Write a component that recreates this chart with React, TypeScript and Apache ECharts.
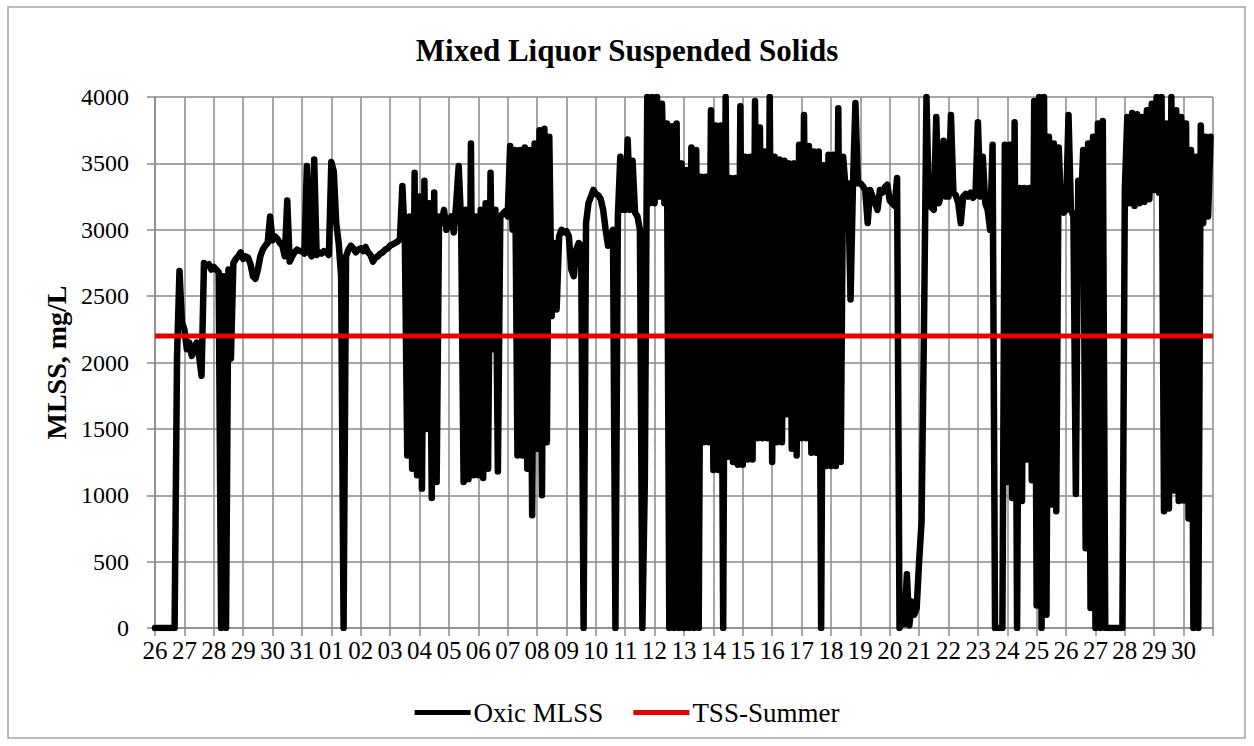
import React, { useEffect, useRef } from "react";
import * as echarts from "echarts";

// Day labels on the x axis (one per day, 26th of the first month to the 30th of the next)
const dayLabels = [
  "26", "27", "28", "29", "30", "31",
  "01", "02", "03", "04", "05", "06", "07", "08", "09", "10",
  "11", "12", "13", "14", "15", "16", "17", "18", "19", "20",
  "21", "22", "23", "24", "25", "26", "27", "28", "29", "30",
];

// Oxic MLSS readings, mg/L, 12 readings (2-hourly) per day
const mlssDays26to31 = [
  [0, 0, 0, 0, 0, 0, 0, 0, 0, 2050, 2690, 2300],
  [2250, 2100, 2150, 2050, 2100, 2150, 2050, 1900, 2750, 2730, 2740, 2700],
  [2720, 2700, 2680, 0, 2650, 0, 2700, 2030, 2750, 2780, 2800, 2830],
  [2780, 2800, 2790, 2740, 2650, 2630, 2700, 2800, 2850, 2880, 2900, 3100],
  [2920, 2950, 2930, 2900, 2880, 2800, 3220, 2760, 2800, 2830, 2850, 2840],
  [2840, 2820, 3480, 2830, 2800, 3530, 2810, 2830, 2820, 2840, 2830, 2810],
];
const mlssDays01to06 = [
  [3510, 3440, 3050, 2900, 2650, 0, 2800, 2850, 2880, 2860, 2830, 2850],
  [2860, 2840, 2870, 2830, 2810, 2760, 2790, 2800, 2820, 2830, 2850, 2860],
  [2880, 2890, 2900, 2910, 2930, 3330, 2950, 1300, 3100, 1200, 3430, 1150],
  [3250, 1050, 3370, 1500, 3200, 980, 3280, 1100, 3100, 3050, 3150, 3000],
  [3050, 3100, 2980, 3200, 3480, 3050, 1100, 3150, 1120, 3650, 1150, 3100],
  [1150, 3150, 1130, 3200, 1200, 3430, 2100, 3150, 1180, 3100, 3120, 3140],
];
const mlssDays07to12 = [
  [3100, 3630, 3000, 3600, 1300, 3600, 1300, 3620, 1200, 3600, 850, 3650],
  [1350, 3750, 1000, 3760, 1400, 3700, 2350, 2900, 2400, 2950, 3000, 2980],
  [2990, 2950, 2700, 2650, 2850, 2900, 2880, 0, 3050, 3200, 3250, 3300],
  [3270, 3260, 3230, 3150, 3000, 2880, 2950, 3000, 0, 3100, 3550, 3150],
  [3150, 3680, 3150, 3520, 3130, 3100, 3000, 0, 1100, 4000, 3200, 4000],
  [3200, 4000, 3250, 3950, 3200, 3800, 0, 3780, 0, 3800, 0, 3500],
];
const mlssDays13to18 = [
  [0, 3450, 0, 3620, 0, 3600, 0, 3400, 1400, 3400, 1400, 3900],
  [1190, 3785, 1190, 3785, 0, 4000, 1290, 3390, 1250, 3390, 1230, 3930],
  [1230, 3550, 1270, 3550, 1270, 3970, 1430, 3770, 1430, 3590, 1430, 4000],
  [1250, 3550, 1400, 3530, 1400, 3520, 1610, 3500, 1350, 3500, 1300, 3640],
  [1430, 3865, 1430, 3630, 1320, 3590, 1320, 3590, 0, 3485, 1220, 3565],
  [1220, 3565, 1220, 3915, 1250, 3550, 3300, 3350, 2475, 3350, 3955, 3350],
];
const mlssDays19to24 = [
  [3350, 3330, 3300, 3050, 3300, 3250, 3200, 3150, 3300, 3280, 3320, 3340],
  [3220, 3200, 3180, 3390, 0, 50, 30, 405, 20, 200, 100, 150],
  [500, 800, 2270, 4000, 3180, 3170, 3150, 3850, 3200, 3260, 3670, 3250],
  [3250, 3865, 3280, 3260, 3200, 3050, 3250, 3270, 3250, 3280, 3240, 3260],
  [3810, 3250, 3550, 3200, 3150, 3000, 3640, 0, 0, 0, 0, 3640],
  [1100, 3640, 980, 3810, 0, 3315, 956, 3315, 1270, 3315, 1113, 3970],
];
const mlssDays25to30 = [
  [170, 4000, 0, 4000, 100, 3700, 930, 3650, 880, 3620, 3150, 3130],
  [3150, 3865, 3150, 3100, 1010, 3370, 3120, 3600, 600, 3650, 150, 3700],
  [0, 3800, 0, 3820, 0, 0, 0, 0, 0, 0, 0, 0],
  [3300, 3850, 3200, 3880, 3180, 3870, 3200, 3850, 3210, 3900, 3230, 3950],
  [3300, 4000, 3280, 4000, 880, 3800, 900, 4000, 1035, 3900, 956, 3850],
  [960, 3800, 825, 3600, 0, 3550, 0, 3785, 3050, 3700, 3100, 3700],
];

// TSS summer limit, mg/L
const tssSummer = 2200;

const SERIF = "'Liberation Serif', 'Times New Roman', serif";

function buildMlss(): number[][] {
  const rows = [
    ...mlssDays26to31,
    ...mlssDays01to06,
    ...mlssDays07to12,
    ...mlssDays13to18,
    ...mlssDays19to24,
    ...mlssDays25to30,
  ];
  const pts: number[][] = [];
  rows.forEach((row, d) => {
    row.forEach((v, k) => {
      pts.push([d + k / row.length, v]);
    });
  });
  return pts;
}

export default function App() {
  const ref = useRef<HTMLDivElement>(null);

  useEffect(() => {
    if (!ref.current) return;
    const chart = echarts.init(ref.current, undefined, { renderer: "svg" });
    const nDays = dayLabels.length;
    const option: any = {
      animation: false,
      backgroundColor: "#ffffff",
      title: {
        text: "Mixed Liquor Suspended Solids",
        left: "center",
        top: 30,
        textStyle: {
          fontFamily: SERIF,
          fontSize: 31,
          fontWeight: "bold",
          color: "#000",
        },
      },
      legend: {
        bottom: 15,
        left: "center",
        itemWidth: 56,
        itemHeight: 5,
        itemGap: 30,
        icon: "rect",
        textStyle: { fontFamily: SERIF, fontSize: 27, color: "#000", padding: [0, 0, 0, -2] },
        data: ["Oxic MLSS", "TSS-Summer"],
      },
      grid: {
        left: 155,
        right: 41,
        top: 97,
        bottom: 118,
        containLabel: false,
      },
      xAxis: {
        type: "value",
        min: 0,
        max: nDays,
        interval: 1,
        axisLine: { show: true, onZero: false, lineStyle: { color: "#8a8a8a", width: 1.5 } },
        axisTick: { show: true, inside: false, length: 8, lineStyle: { color: "#8a8a8a", width: 1.5 } },
        splitLine: { show: true, lineStyle: { color: "#8a8a8a", width: 1.5 } },
        axisLabel: {
          fontFamily: SERIF,
          fontSize: 25,
          color: "#000",
          margin: 10,
          showMaxLabel: true,
          formatter: (v: number) => dayLabels[Math.round(v)] ?? "",
        },
      },
      yAxis: {
        type: "value",
        min: 0,
        max: 4000,
        interval: 500,
        name: "MLSS, mg/L",
        nameLocation: "middle",
        nameRotate: 90,
        nameGap: 84,
        nameTextStyle: { fontFamily: SERIF, fontSize: 28, fontWeight: "bold", color: "#000" },
        axisLine: { show: true, lineStyle: { color: "#8a8a8a", width: 1.5 } },
        axisTick: { show: true, inside: false, length: 8, lineStyle: { color: "#8a8a8a", width: 1.5 } },
        splitLine: { show: true, lineStyle: { color: "#8a8a8a", width: 1.5 } },
        axisLabel: {
          fontFamily: SERIF,
          fontSize: 24,
          color: "#000",
          margin: 26,
          formatter: (v: number) => String(v),
        },
      },
      graphic: [
        {
          type: "rect",
          shape: { x: 8, y: 7, width: 1237, height: 731 },
          style: { fill: "none", stroke: "#a6a6a6", lineWidth: 1.5 },
          silent: true,
          z: -1,
        },
      ],
      series: [
        {
          name: "Oxic MLSS",
          type: "line",
          data: buildMlss(),
          showSymbol: false,
          symbol: "none",
          color: "#000000",
          lineStyle: { color: "#000000", width: 6.5, join: "round", cap: "round" },
          clip: true,
        },
        {
          name: "TSS-Summer",
          type: "line",
          data: [
            [0, tssSummer],
            [nDays, tssSummer],
          ],
          showSymbol: false,
          symbol: "none",
          color: "#e60000",
          lineStyle: { color: "#e60000", width: 5 },
        },
      ],
    };
    chart.setOption(option);
    return () => chart.dispose();
  }, []);

  return (
    <div
      ref={ref}
      style={{ position: "absolute", left: 0, top: 0, width: 1254, height: 746 }}
    />
  );
}
